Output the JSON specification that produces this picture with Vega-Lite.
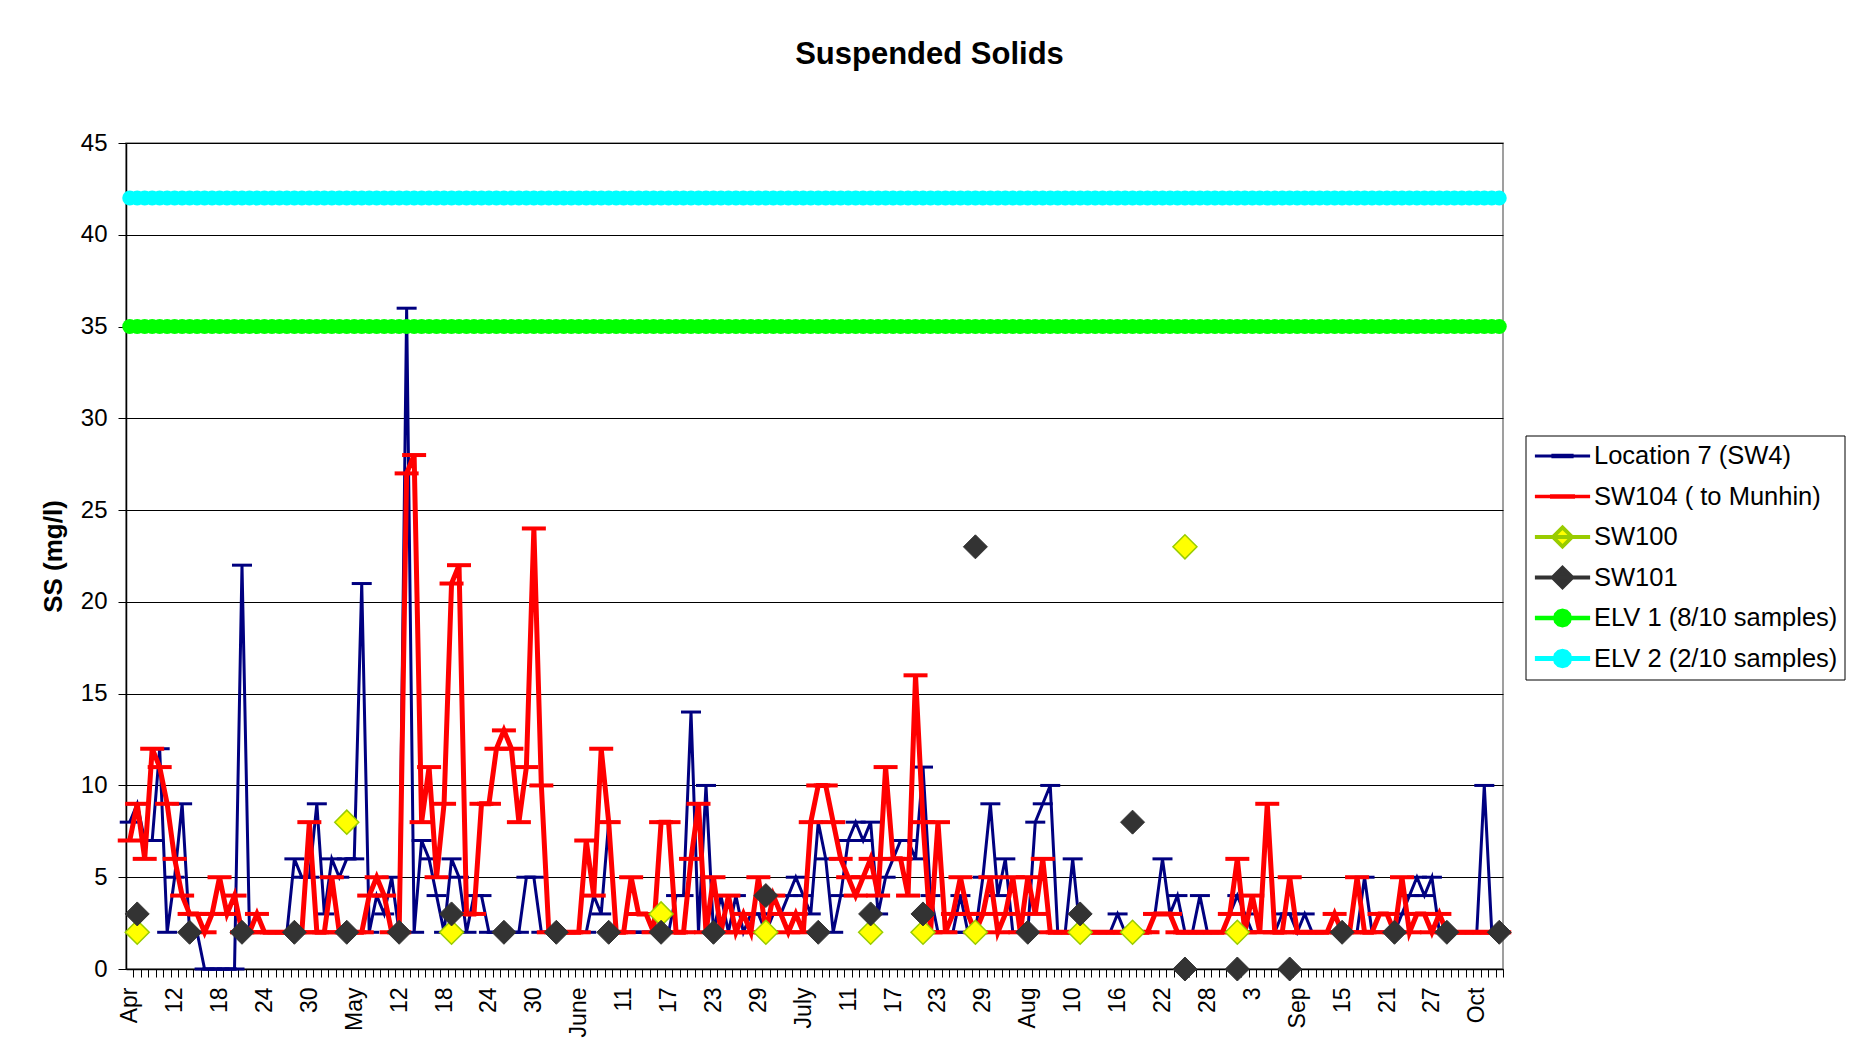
{
  "$schema": "https://vega.github.io/schema/vega-lite/v6.json",
  "autosize": {"type": "none"},
  "width": 1377,
  "height": 826,
  "padding": {"left": 126, "top": 143, "right": 353, "bottom": 91},
  "background": "white",
  "config": {
    "view": {"stroke": "#808080", "strokeWidth": 1.5},
    "font": "Liberation Sans",
    "axis": {"labelFont": "Liberation Sans", "titleFont": "Liberation Sans"},
    "legend": {"labelFont": "Liberation Sans"}
  },
  "title": {"text": "Suspended Solids", "fontSize": 31, "font": "Liberation Sans", "fontWeight": "bold", "color": "black", "offset": 60, "dx": 115, "anchor": "middle"},
  "data": {"values": [
    {"d":0,"loc7":8,"sw104":7,"elv1":35,"elv2":42},
    {"d":1,"loc7":9,"sw104":9,"sw100":2,"sw101":3,"elv1":35,"elv2":42},
    {"d":2,"loc7":7,"sw104":6,"elv1":35,"elv2":42},
    {"d":3,"loc7":7,"sw104":12,"elv1":35,"elv2":42},
    {"d":4,"loc7":12,"sw104":11,"elv1":35,"elv2":42},
    {"d":5,"loc7":2,"sw104":9,"elv1":35,"elv2":42},
    {"d":6,"loc7":5,"sw104":6,"elv1":35,"elv2":42},
    {"d":7,"loc7":9,"sw104":4,"elv1":35,"elv2":42},
    {"d":8,"loc7":2,"sw104":3,"sw101":2,"elv1":35,"elv2":42},
    {"d":9,"loc7":2,"sw104":3,"elv1":35,"elv2":42},
    {"d":10,"loc7":0,"sw104":2,"elv1":35,"elv2":42},
    {"d":11,"loc7":0,"sw104":3,"elv1":35,"elv2":42},
    {"d":12,"loc7":0,"sw104":5,"elv1":35,"elv2":42},
    {"d":13,"loc7":0,"sw104":3,"elv1":35,"elv2":42},
    {"d":14,"loc7":0,"sw104":4,"elv1":35,"elv2":42},
    {"d":15,"loc7":22,"sw104":2,"sw101":2,"elv1":35,"elv2":42},
    {"d":16,"loc7":2,"sw104":2,"elv1":35,"elv2":42},
    {"d":17,"loc7":2,"sw104":3,"elv1":35,"elv2":42},
    {"d":18,"loc7":2,"sw104":2,"elv1":35,"elv2":42},
    {"d":19,"loc7":2,"sw104":2,"elv1":35,"elv2":42},
    {"d":20,"loc7":2,"sw104":2,"elv1":35,"elv2":42},
    {"d":21,"loc7":2,"sw104":2,"elv1":35,"elv2":42},
    {"d":22,"loc7":6,"sw104":2,"sw101":2,"elv1":35,"elv2":42},
    {"d":23,"loc7":5,"sw104":2,"elv1":35,"elv2":42},
    {"d":24,"loc7":5,"sw104":8,"elv1":35,"elv2":42},
    {"d":25,"loc7":9,"sw104":2,"elv1":35,"elv2":42},
    {"d":26,"loc7":3,"sw104":2,"elv1":35,"elv2":42},
    {"d":27,"loc7":6,"sw104":5,"elv1":35,"elv2":42},
    {"d":28,"loc7":5,"sw104":2,"elv1":35,"elv2":42},
    {"d":29,"loc7":6,"sw104":2,"sw100":8,"sw101":2,"elv1":35,"elv2":42},
    {"d":30,"loc7":6,"sw104":2,"elv1":35,"elv2":42},
    {"d":31,"loc7":21,"sw104":2,"elv1":35,"elv2":42},
    {"d":32,"loc7":2,"sw104":4,"elv1":35,"elv2":42},
    {"d":33,"loc7":4,"sw104":5,"elv1":35,"elv2":42},
    {"d":34,"loc7":3,"sw104":4,"elv1":35,"elv2":42},
    {"d":35,"loc7":5,"sw104":2,"elv1":35,"elv2":42},
    {"d":36,"loc7":2,"sw104":2,"sw101":2,"elv1":35,"elv2":42},
    {"d":37,"loc7":36,"sw104":27,"elv1":35,"elv2":42},
    {"d":38,"loc7":2,"sw104":28,"elv1":35,"elv2":42},
    {"d":39,"loc7":7,"sw104":8,"elv1":35,"elv2":42},
    {"d":40,"loc7":6,"sw104":11,"elv1":35,"elv2":42},
    {"d":41,"loc7":4,"sw104":5,"elv1":35,"elv2":42},
    {"d":42,"loc7":2,"sw104":9,"elv1":35,"elv2":42},
    {"d":43,"loc7":6,"sw104":21,"sw100":2,"sw101":3,"elv1":35,"elv2":42},
    {"d":44,"loc7":5,"sw104":22,"elv1":35,"elv2":42},
    {"d":45,"loc7":2,"sw104":3,"elv1":35,"elv2":42},
    {"d":46,"loc7":4,"sw104":3,"elv1":35,"elv2":42},
    {"d":47,"loc7":4,"sw104":9,"elv1":35,"elv2":42},
    {"d":48,"loc7":2,"sw104":9,"elv1":35,"elv2":42},
    {"d":49,"loc7":2,"sw104":12,"elv1":35,"elv2":42},
    {"d":50,"loc7":2,"sw104":13,"sw101":2,"elv1":35,"elv2":42},
    {"d":51,"loc7":2,"sw104":12,"elv1":35,"elv2":42},
    {"d":52,"loc7":2,"sw104":8,"elv1":35,"elv2":42},
    {"d":53,"loc7":5,"sw104":11,"elv1":35,"elv2":42},
    {"d":54,"loc7":5,"sw104":24,"elv1":35,"elv2":42},
    {"d":55,"loc7":2,"sw104":10,"elv1":35,"elv2":42},
    {"d":56,"loc7":2,"sw104":2,"elv1":35,"elv2":42},
    {"d":57,"loc7":2,"sw104":2,"sw101":2,"elv1":35,"elv2":42},
    {"d":58,"loc7":2,"sw104":2,"elv1":35,"elv2":42},
    {"d":59,"loc7":2,"sw104":2,"elv1":35,"elv2":42},
    {"d":60,"loc7":2,"sw104":2,"elv1":35,"elv2":42},
    {"d":61,"loc7":2,"sw104":7,"elv1":35,"elv2":42},
    {"d":62,"loc7":4,"sw104":4,"elv1":35,"elv2":42},
    {"d":63,"loc7":3,"sw104":12,"elv1":35,"elv2":42},
    {"d":64,"loc7":8,"sw104":8,"sw101":2,"elv1":35,"elv2":42},
    {"d":65,"loc7":2,"sw104":2,"elv1":35,"elv2":42},
    {"d":66,"loc7":2,"sw104":2,"elv1":35,"elv2":42},
    {"d":67,"loc7":2,"sw104":5,"elv1":35,"elv2":42},
    {"d":68,"loc7":2,"sw104":3,"elv1":35,"elv2":42},
    {"d":69,"loc7":2,"sw104":3,"elv1":35,"elv2":42},
    {"d":70,"loc7":2,"sw104":2,"elv1":35,"elv2":42},
    {"d":71,"loc7":2,"sw104":8,"sw100":3,"sw101":2,"elv1":35,"elv2":42},
    {"d":72,"loc7":2,"sw104":8,"elv1":35,"elv2":42},
    {"d":73,"loc7":4,"sw104":2,"elv1":35,"elv2":42},
    {"d":74,"loc7":4,"sw104":2,"elv1":35,"elv2":42},
    {"d":75,"loc7":14,"sw104":6,"elv1":35,"elv2":42},
    {"d":76,"loc7":2,"sw104":9,"elv1":35,"elv2":42},
    {"d":77,"loc7":10,"sw104":2,"elv1":35,"elv2":42},
    {"d":78,"loc7":2,"sw104":5,"sw101":2,"elv1":35,"elv2":42},
    {"d":79,"loc7":4,"sw104":2,"elv1":35,"elv2":42},
    {"d":80,"loc7":2,"sw104":4,"elv1":35,"elv2":42},
    {"d":81,"loc7":4,"sw104":2,"elv1":35,"elv2":42},
    {"d":82,"loc7":2,"sw104":3,"elv1":35,"elv2":42},
    {"d":83,"loc7":3,"sw104":2,"elv1":35,"elv2":42},
    {"d":84,"loc7":3,"sw104":5,"elv1":35,"elv2":42},
    {"d":85,"loc7":2,"sw104":2,"sw100":2,"sw101":4,"elv1":35,"elv2":42},
    {"d":86,"loc7":3,"sw104":4,"elv1":35,"elv2":42},
    {"d":87,"loc7":3,"sw104":3,"elv1":35,"elv2":42},
    {"d":88,"loc7":4,"sw104":2,"elv1":35,"elv2":42},
    {"d":89,"loc7":5,"sw104":3,"elv1":35,"elv2":42},
    {"d":90,"loc7":4,"sw104":2,"elv1":35,"elv2":42},
    {"d":91,"loc7":3,"sw104":8,"elv1":35,"elv2":42},
    {"d":92,"loc7":8,"sw104":10,"sw101":2,"elv1":35,"elv2":42},
    {"d":93,"loc7":6,"sw104":10,"elv1":35,"elv2":42},
    {"d":94,"loc7":2,"sw104":8,"elv1":35,"elv2":42},
    {"d":95,"loc7":4,"sw104":6,"elv1":35,"elv2":42},
    {"d":96,"loc7":7,"sw104":5,"elv1":35,"elv2":42},
    {"d":97,"loc7":8,"sw104":4,"elv1":35,"elv2":42},
    {"d":98,"loc7":7,"sw104":5,"elv1":35,"elv2":42},
    {"d":99,"loc7":8,"sw104":6,"sw100":2,"sw101":3,"elv1":35,"elv2":42},
    {"d":100,"loc7":3,"sw104":4,"elv1":35,"elv2":42},
    {"d":101,"loc7":5,"sw104":11,"elv1":35,"elv2":42},
    {"d":102,"loc7":6,"sw104":6,"elv1":35,"elv2":42},
    {"d":103,"loc7":7,"sw104":6,"elv1":35,"elv2":42},
    {"d":104,"loc7":7,"sw104":4,"elv1":35,"elv2":42},
    {"d":105,"loc7":6,"sw104":16,"elv1":35,"elv2":42},
    {"d":106,"loc7":11,"sw104":8,"sw100":2,"sw101":3,"elv1":35,"elv2":42},
    {"d":107,"loc7":4,"sw104":2,"elv1":35,"elv2":42},
    {"d":108,"loc7":2,"sw104":8,"elv1":35,"elv2":42},
    {"d":109,"loc7":2,"sw104":2,"elv1":35,"elv2":42},
    {"d":110,"loc7":2,"sw104":3,"elv1":35,"elv2":42},
    {"d":111,"loc7":4,"sw104":5,"elv1":35,"elv2":42},
    {"d":112,"loc7":2,"sw104":3,"elv1":35,"elv2":42},
    {"d":113,"loc7":2,"sw104":2,"sw100":2,"sw101":23,"elv1":35,"elv2":42},
    {"d":114,"loc7":5,"sw104":3,"elv1":35,"elv2":42},
    {"d":115,"loc7":9,"sw104":5,"elv1":35,"elv2":42},
    {"d":116,"loc7":4,"sw104":2,"elv1":35,"elv2":42},
    {"d":117,"loc7":6,"sw104":3,"elv1":35,"elv2":42},
    {"d":118,"loc7":2,"sw104":5,"elv1":35,"elv2":42},
    {"d":119,"loc7":2,"sw104":2,"elv1":35,"elv2":42},
    {"d":120,"loc7":2,"sw104":5,"sw101":2,"elv1":35,"elv2":42},
    {"d":121,"loc7":8,"sw104":3,"elv1":35,"elv2":42},
    {"d":122,"loc7":9,"sw104":6,"elv1":35,"elv2":42},
    {"d":123,"loc7":10,"sw104":2,"elv1":35,"elv2":42},
    {"d":124,"loc7":2,"sw104":2,"elv1":35,"elv2":42},
    {"d":125,"loc7":2,"sw104":2,"elv1":35,"elv2":42},
    {"d":126,"loc7":6,"sw104":2,"elv1":35,"elv2":42},
    {"d":127,"loc7":2,"sw104":2,"sw100":2,"sw101":3,"elv1":35,"elv2":42},
    {"d":128,"loc7":2,"sw104":2,"elv1":35,"elv2":42},
    {"d":129,"loc7":2,"sw104":2,"elv1":35,"elv2":42},
    {"d":130,"loc7":2,"sw104":2,"elv1":35,"elv2":42},
    {"d":131,"loc7":2,"sw104":2,"elv1":35,"elv2":42},
    {"d":132,"loc7":3,"sw104":2,"elv1":35,"elv2":42},
    {"d":133,"loc7":2,"sw104":2,"elv1":35,"elv2":42},
    {"d":134,"loc7":2,"sw104":2,"sw100":2,"sw101":8,"elv1":35,"elv2":42},
    {"d":135,"loc7":2,"sw104":2,"elv1":35,"elv2":42},
    {"d":136,"loc7":2,"sw104":2,"elv1":35,"elv2":42},
    {"d":137,"loc7":3,"sw104":3,"elv1":35,"elv2":42},
    {"d":138,"loc7":6,"sw104":3,"elv1":35,"elv2":42},
    {"d":139,"loc7":3,"sw104":3,"elv1":35,"elv2":42},
    {"d":140,"loc7":4,"sw104":2,"elv1":35,"elv2":42},
    {"d":141,"loc7":2,"sw104":2,"sw100":23,"sw101":0,"elv1":35,"elv2":42},
    {"d":142,"loc7":2,"sw104":2,"elv1":35,"elv2":42},
    {"d":143,"loc7":4,"sw104":2,"elv1":35,"elv2":42},
    {"d":144,"loc7":2,"sw104":2,"elv1":35,"elv2":42},
    {"d":145,"loc7":2,"sw104":2,"elv1":35,"elv2":42},
    {"d":146,"loc7":2,"sw104":2,"elv1":35,"elv2":42},
    {"d":147,"loc7":3,"sw104":3,"elv1":35,"elv2":42},
    {"d":148,"loc7":4,"sw104":6,"sw100":2,"sw101":0,"elv1":35,"elv2":42},
    {"d":149,"loc7":3,"sw104":2,"elv1":35,"elv2":42},
    {"d":150,"loc7":2,"sw104":4,"elv1":35,"elv2":42},
    {"d":151,"loc7":2,"sw104":2,"elv1":35,"elv2":42},
    {"d":152,"loc7":2,"sw104":9,"elv1":35,"elv2":42},
    {"d":153,"loc7":2,"sw104":2,"elv1":35,"elv2":42},
    {"d":154,"loc7":3,"sw104":2,"elv1":35,"elv2":42},
    {"d":155,"loc7":3,"sw104":5,"sw101":0,"elv1":35,"elv2":42},
    {"d":156,"loc7":2,"sw104":2,"elv1":35,"elv2":42},
    {"d":157,"loc7":3,"sw104":2,"elv1":35,"elv2":42},
    {"d":158,"loc7":2,"sw104":2,"elv1":35,"elv2":42},
    {"d":159,"loc7":2,"sw104":2,"elv1":35,"elv2":42},
    {"d":160,"loc7":2,"sw104":2,"elv1":35,"elv2":42},
    {"d":161,"loc7":2,"sw104":3,"elv1":35,"elv2":42},
    {"d":162,"loc7":2,"sw104":2,"sw101":2,"elv1":35,"elv2":42},
    {"d":163,"loc7":2,"sw104":2,"elv1":35,"elv2":42},
    {"d":164,"loc7":2,"sw104":5,"elv1":35,"elv2":42},
    {"d":165,"loc7":5,"sw104":2,"elv1":35,"elv2":42},
    {"d":166,"loc7":2,"sw104":2,"elv1":35,"elv2":42},
    {"d":167,"loc7":2,"sw104":3,"elv1":35,"elv2":42},
    {"d":168,"loc7":2,"sw104":3,"elv1":35,"elv2":42},
    {"d":169,"loc7":2,"sw104":2,"sw101":2,"elv1":35,"elv2":42},
    {"d":170,"loc7":3,"sw104":5,"elv1":35,"elv2":42},
    {"d":171,"loc7":4,"sw104":2,"elv1":35,"elv2":42},
    {"d":172,"loc7":5,"sw104":3,"elv1":35,"elv2":42},
    {"d":173,"loc7":4,"sw104":3,"elv1":35,"elv2":42},
    {"d":174,"loc7":5,"sw104":2,"elv1":35,"elv2":42},
    {"d":175,"loc7":2,"sw104":3,"elv1":35,"elv2":42},
    {"d":176,"loc7":2,"sw104":2,"sw101":2,"elv1":35,"elv2":42},
    {"d":177,"loc7":2,"sw104":2,"elv1":35,"elv2":42},
    {"d":178,"loc7":2,"sw104":2,"elv1":35,"elv2":42},
    {"d":179,"loc7":2,"sw104":2,"elv1":35,"elv2":42},
    {"d":180,"loc7":2,"sw104":2,"elv1":35,"elv2":42},
    {"d":181,"loc7":10,"sw104":2,"elv1":35,"elv2":42},
    {"d":182,"loc7":2,"sw104":2,"elv1":35,"elv2":42},
    {"d":183,"loc7":2,"sw104":2,"sw101":2,"elv1":35,"elv2":42}
  ]},
  "transform": [{"fold": ["loc7", "sw104", "sw100", "sw101", "elv1", "elv2"], "as": ["key", "value"]}],
  "encoding": {
    "x": {
      "field": "d", "type": "quantitative",
      "scale": {"domain": [-0.5, 183.5], "nice": false, "zero": false},
      "axis": {
        "title": null,
        "values": [0,1,2,3,4,5,6,7,8,9,10,11,12,13,14,15,16,17,18,19,20,21,22,23,24,25,26,27,28,29,30,31,32,33,34,35,36,37,38,39,40,41,42,43,44,45,46,47,48,49,50,51,52,53,54,55,56,57,58,59,60,61,62,63,64,65,66,67,68,69,70,71,72,73,74,75,76,77,78,79,80,81,82,83,84,85,86,87,88,89,90,91,92,93,94,95,96,97,98,99,100,101,102,103,104,105,106,107,108,109,110,111,112,113,114,115,116,117,118,119,120,121,122,123,124,125,126,127,128,129,130,131,132,133,134,135,136,137,138,139,140,141,142,143,144,145,146,147,148,149,150,151,152,153,154,155,156,157,158,159,160,161,162,163,164,165,166,167,168,169,170,171,172,173,174,175,176,177,178,179,180,181,182,183],
        "labelExpr": "datum.value % 6 == 0 ? ['Apr','12','18','24','30','May','12','18','24','30','June','11','17','23','29','July','11','17','23','29','Aug','10','16','22','28','3','Sep','15','21','27','Oct'][datum.value / 6] : ''",
        "labelAngle": -90, "labelAlign": "right", "labelBaseline": "middle",
        "labelFontSize": 23, "labelColor": "black", "labelPadding": 10,
        "labelOverlap": false, "labelFlush": false, "labelBound": false,
        "tickSize": 8, "tickColor": "black", "tickWidth": 1,
        "tickOffset": 3.74, "labelOffset": -3.74,
        "domainColor": "black", "domainWidth": 1.5, "grid": false
      }
    },
    "y": {
      "field": "value", "type": "quantitative",
      "scale": {"domain": [0, 45], "nice": false},
      "axis": {"title": "SS (mg/l)", "titleFontSize": 26, "titleFontWeight": "bold", "titleColor": "black", "titlePadding": 14,
        "values": [0,5,10,15,20,25,30,35,40,45], "grid": true, "gridColor": "black", "gridWidth": 1,
        "tickSize": 8, "tickColor": "black", "labelFontSize": 24, "labelColor": "black", "labelPadding": 11,
        "domainColor": "black", "domainWidth": 1.5}
    }
  },
  "layer": [
    {
      "transform": [{"filter": "datum.key == 'loc7'"}],
      "mark": {"type": "line", "color": "#000080", "strokeWidth": 3}
    },
    {
      "transform": [{"filter": "datum.key == 'loc7'"}],
      "mark": {"type": "tick", "orient": "horizontal", "color": "#000080", "size": 20, "thickness": 3, "opacity": 1}
    },
    {
      "transform": [{"filter": "datum.key == 'sw104'"}],
      "mark": {"type": "line", "color": "#FF0000", "strokeWidth": 5}
    },
    {
      "transform": [{"filter": "datum.key == 'sw104'"}],
      "mark": {"type": "tick", "orient": "horizontal", "color": "#FF0000", "size": 24, "thickness": 4, "opacity": 1}
    },
    {
      "transform": [{"filter": "datum.key == 'sw100' && isValid(datum.value)"}],
      "mark": {"type": "point", "shape": "diamond", "filled": true, "fill": "#FFFF00", "stroke": "#99CC00", "strokeWidth": 1.5, "size": 576, "opacity": 1}
    },
    {
      "transform": [{"filter": "datum.key == 'sw101' && isValid(datum.value)"}],
      "mark": {"type": "point", "shape": "diamond", "filled": true, "fill": "#333333", "stroke": "#333333", "strokeWidth": 1, "size": 576, "opacity": 1}
    },
    {
      "transform": [{"filter": "datum.key == 'elv1'"}],
      "mark": {"type": "line", "color": "#00FF00", "strokeWidth": 3}
    },
    {
      "transform": [{"filter": "datum.key == 'elv1'"}],
      "mark": {"type": "point", "shape": "circle", "filled": true, "color": "#00FF00", "size": 225, "opacity": 1}
    },
    {
      "transform": [{"filter": "datum.key == 'elv2'"}],
      "mark": {"type": "line", "color": "#00FFFF", "strokeWidth": 3}
    },
    {
      "transform": [{"filter": "datum.key == 'elv2'"}],
      "mark": {"type": "point", "shape": "circle", "filled": true, "color": "#00FFFF", "size": 225, "opacity": 1}
    },
    {
      "transform": [{"filter": "false"}],
      "mark": {"type": "point", "filled": true, "opacity": 1},
      "encoding": {
        "shape": {"field": "series", "type": "nominal",
          "scale": {"domain": ["Location 7 (SW4)", "SW104 ( to Munhin)", "SW100", "SW101", "ELV 1 (8/10 samples)", "ELV 2 (2/10 samples)"],
            "range": [
              "M-2.3,0H2.3M-0.8,-0.06H0.8V0.06H-0.8Z",
              "M-2.3,0H2.3M-0.9,-0.05H0.9V0.05H-0.9Z",
              "M-2.3,0H2.3M0,-0.8L0.8,0L0,0.8L-0.8,0Z",
              "M-2.3,0H2.3M0,-0.8L0.8,0L0,0.8L-0.8,0Z",
              "M-2.3,0H2.3M0.6,0L0.52,0.3L0.3,0.52L0,0.6L-0.3,0.52L-0.52,0.3L-0.6,0L-0.52,-0.3L-0.3,-0.52L0,-0.6L0.3,-0.52L0.52,-0.3Z",
              "M-2.3,0H2.3M0.6,0L0.52,0.3L0.3,0.52L0,0.6L-0.3,0.52L-0.52,0.3L-0.6,0L-0.52,-0.3L-0.3,-0.52L0,-0.6L0.3,-0.52L0.52,-0.3Z"
            ]},
          "legend": {"title": null, "orient": "none", "legendX": 1399.5, "legendY": 292.5, "symbolSize": 576, "labelFontSize": 25.5, "labelColor": "black", "strokeColor": "black", "fillColor": "white", "padding": 6.5, "rowPadding": 12.5, "clipHeight": 28, "symbolOffset": 16, "labelOffset": 17, "symbolOpacity": 1, "labelLimit": 500, "cornerRadius": 0}},
        "fill": {"field": "series", "type": "nominal",
          "scale": {"domain": ["Location 7 (SW4)", "SW104 ( to Munhin)", "SW100", "SW101", "ELV 1 (8/10 samples)", "ELV 2 (2/10 samples)"],
            "range": ["#000080", "#FF0000", "#FFFF00", "#333333", "#00FF00", "#00FFFF"]},
          "legend": {"title": null, "orient": "none", "legendX": 1399.5, "legendY": 292.5, "symbolSize": 576, "labelFontSize": 25.5, "labelColor": "black", "strokeColor": "black", "fillColor": "white", "padding": 6.5, "rowPadding": 12.5, "clipHeight": 28, "symbolOffset": 16, "labelOffset": 17, "symbolOpacity": 1, "labelLimit": 500, "cornerRadius": 0}},
        "stroke": {"field": "series", "type": "nominal",
          "scale": {"domain": ["Location 7 (SW4)", "SW104 ( to Munhin)", "SW100", "SW101", "ELV 1 (8/10 samples)", "ELV 2 (2/10 samples)"],
            "range": ["#000080", "#FF0000", "#99CC00", "#333333", "#00FF00", "#00FFFF"]},
          "legend": {"title": null, "orient": "none", "legendX": 1399.5, "legendY": 292.5, "symbolSize": 576, "labelFontSize": 25.5, "labelColor": "black", "strokeColor": "black", "fillColor": "white", "padding": 6.5, "rowPadding": 12.5, "clipHeight": 28, "symbolOffset": 16, "labelOffset": 17, "symbolOpacity": 1, "labelLimit": 500, "cornerRadius": 0}},
        "strokeWidth": {"field": "series", "type": "nominal",
          "scale": {"domain": ["Location 7 (SW4)", "SW104 ( to Munhin)", "SW100", "SW101", "ELV 1 (8/10 samples)", "ELV 2 (2/10 samples)"],
            "range": [3, 5, 3, 3, 3, 3]},
          "legend": {"title": null, "orient": "none", "legendX": 1399.5, "legendY": 292.5, "symbolSize": 576, "labelFontSize": 25.5, "labelColor": "black", "strokeColor": "black", "fillColor": "white", "padding": 6.5, "rowPadding": 12.5, "clipHeight": 28, "symbolOffset": 16, "labelOffset": 17, "symbolOpacity": 1, "labelLimit": 500, "cornerRadius": 0}}
      }
    }
  ]
}
